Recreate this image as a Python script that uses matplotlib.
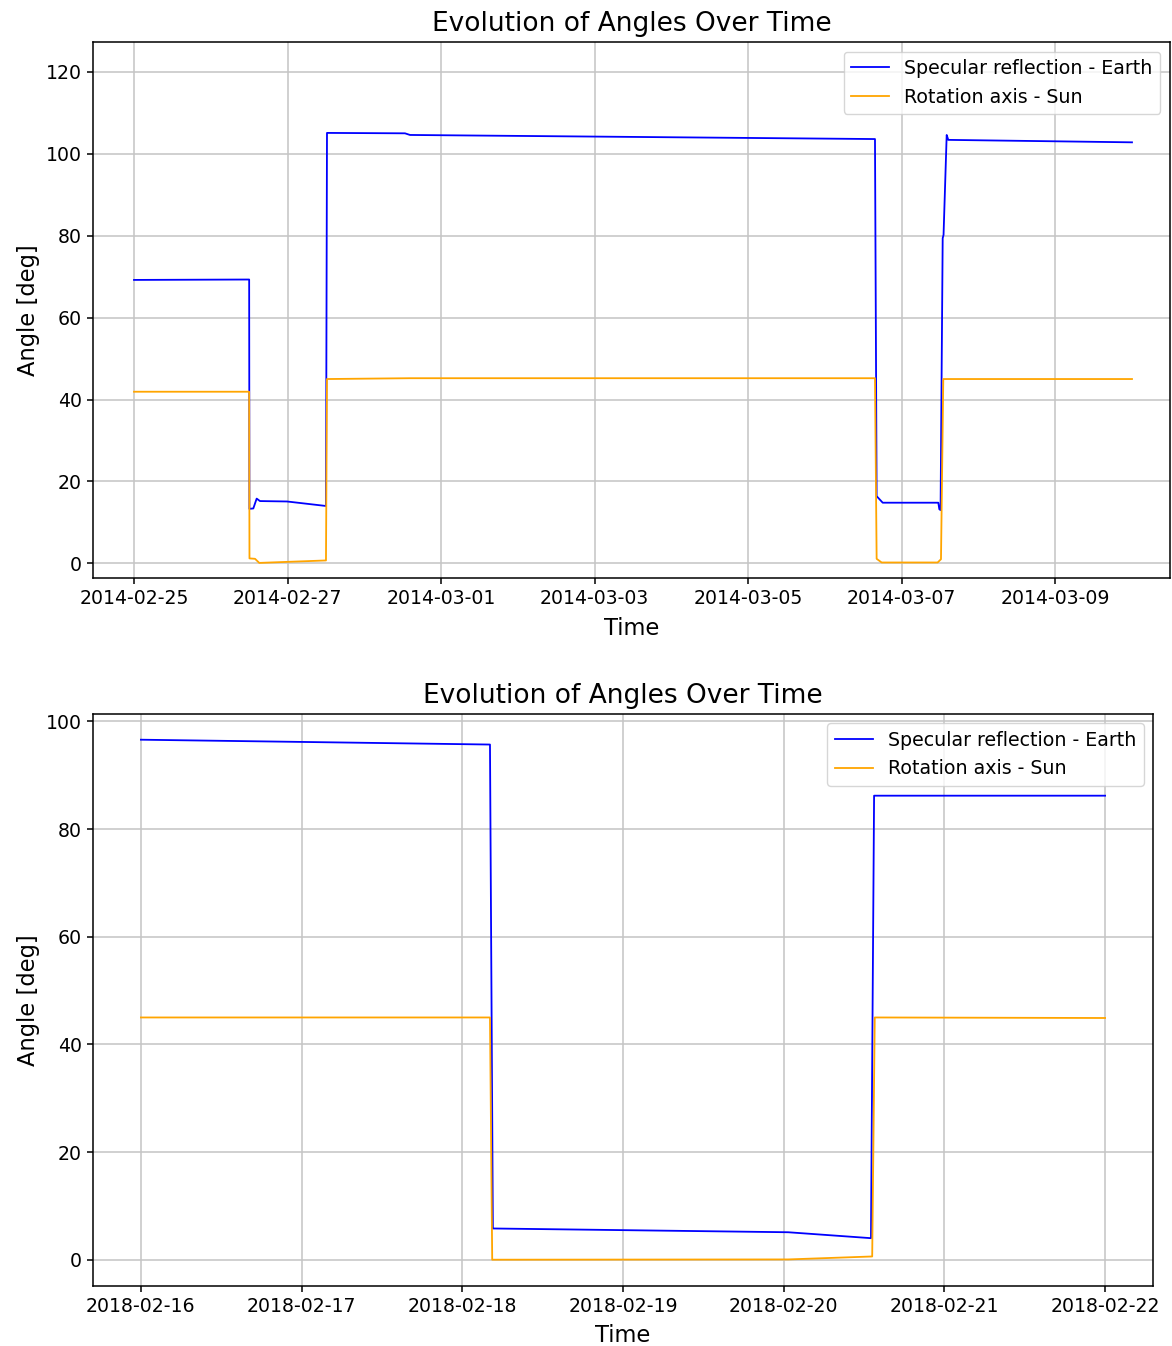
import pandas as pd
import matplotlib
matplotlib.use("Agg")
import matplotlib.pyplot as plt
import matplotlib.dates as mdates

# --- 2014 pass ---
t_spec_2014 = ["2014-02-25 00:00", "2014-02-26 12:00", "2014-02-26 12:05", "2014-02-26 13:18",
               "2014-02-26 14:21", "2014-02-26 15:23", "2014-02-26 23:50", "2014-02-27 12:01",
               "2014-02-27 12:20", "2014-02-28 12:43", "2014-02-28 14:17", "2014-03-06 15:39",
               "2014-03-06 16:10", "2014-03-06 18:04", "2014-03-07 11:27", "2014-03-07 11:46",
               "2014-03-07 12:09", "2014-03-07 12:49", "2014-03-07 13:05", "2014-03-07 14:04",
               "2014-03-07 14:34", "2014-03-10 00:00"]
spec_2014 = [69.2, 69.3, 13.3, 13.4, 15.8, 15.2, 15.1, 14.0,
             105.1, 105.0, 104.6, 103.6, 16.4, 14.8, 14.8, 13.2,
             13.0, 79.4, 80.2, 104.6, 103.4, 102.8]

t_rot_2014 = ["2014-02-25 00:00", "2014-02-26 12:00", "2014-02-26 12:06", "2014-02-26 13:50",
              "2014-02-26 15:10", "2014-02-27 12:01", "2014-02-27 12:20", "2014-02-28 14:17",
              "2014-03-06 15:39", "2014-03-06 16:10", "2014-03-06 17:44", "2014-03-07 11:14",
              "2014-03-07 12:17", "2014-03-07 13:00", "2014-03-10 00:00"]
rot_2014 = [41.9, 41.9, 1.2, 1.1, 0.1, 0.7, 45.0, 45.2,
            45.2, 1.1, 0.2, 0.2, 1.0, 45.0, 45.0]

# --- 2018 pass ---
t_spec_2018 = ["2018-02-16 00:00", "2018-02-18 04:08", "2018-02-18 04:34", "2018-02-20 00:40",
               "2018-02-20 13:02", "2018-02-20 13:30", "2018-02-22 00:00"]
spec_2018 = [96.6, 95.7, 5.8, 5.1, 4.0, 86.2, 86.2]

t_rot_2018 = ["2018-02-16 00:00", "2018-02-18 04:08", "2018-02-18 04:28", "2018-02-20 00:40",
              "2018-02-20 13:13", "2018-02-20 13:36", "2018-02-22 00:00"]
rot_2018 = [45.0, 45.0, 0.0, 0.05, 0.6, 45.0, 44.9]

plt.rcParams.update({
    "xtick.labelsize": 13.6, "ytick.labelsize": 13.6,
    "axes.labelsize": 16.3, "axes.titlesize": 19,
    "legend.fontsize": 13.7, "axes.linewidth": 1.1,
    "xtick.major.size": 4.5, "ytick.major.size": 4.5,
    "xtick.major.width": 1.1, "ytick.major.width": 1.1,
    "grid.linewidth": 1.1, "grid.color": "#c4c4c4",
})

W, H = 1172, 1346
fig = plt.figure(figsize=(W / 100, H / 100), dpi=100)

def box(l, t, r, b):
    return [l / W, 1 - b / H, (r - l) / W, (b - t) / H]

ax1 = fig.add_axes(box(92.7, 42, 1170, 578.3))
ax2 = fig.add_axes(box(92.7, 713.7, 1153.3, 1285.7))

panels = [
    (ax1, t_spec_2014, spec_2014, t_rot_2014, rot_2014),
    (ax2, t_spec_2018, spec_2018, t_rot_2018, rot_2018),
]

for ax, ts, s, tr, r in panels:
    ax.plot(pd.to_datetime(ts), s, color="blue", lw=1.3, label="Specular reflection - Earth")
    ax.plot(pd.to_datetime(tr), r, color="orange", lw=1.3, label="Rotation axis - Sun")
    ax.set_title("Evolution of Angles Over Time", pad=8)
    ax.set_xlabel("Time", labelpad=6)
    ax.set_ylabel("Angle [deg]")
    ax.grid(True)
    ax.legend(loc="upper right")
    ax.xaxis.set_major_formatter(mdates.DateFormatter("%Y-%m-%d"))

t0 = pd.Timestamp("2014-02-25")
ax1.set_xlim(t0 - pd.Timedelta(days=0.538), t0 + pd.Timedelta(days=13.495))
ax1.set_ylim(-3.66, 127.3)
ax1.set_xticks(pd.date_range("2014-02-25", "2014-03-09", freq="2D"))
ax1.set_yticks(range(0, 121, 20))

ax2.set_xticks(pd.date_range("2018-02-16", "2018-02-22", freq="1D"))
ax2.xaxis.set_major_formatter(mdates.DateFormatter("%Y-%m-%d"))

fig.savefig("out.png", dpi=100)
